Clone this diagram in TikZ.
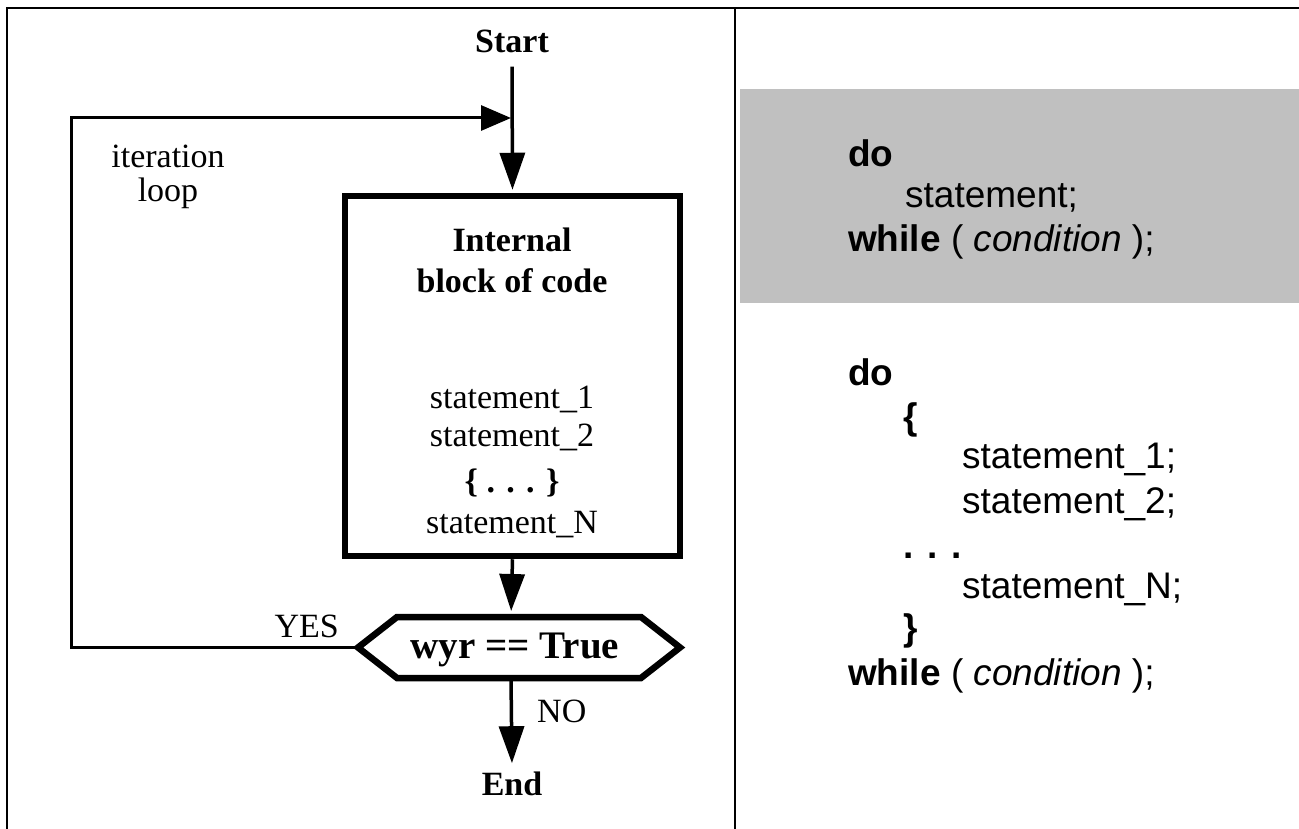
\documentclass[tikz,border=0pt]{standalone}
\usepackage{fontspec}
\setmainfont{Liberation Serif}
\newfontfamily\arialfont{Liberation Sans}
\usetikzlibrary{arrows.meta}
\definecolor{panelgray}{RGB}{192,192,192}
\begin{document}
\begin{tikzpicture}[x=1pt,y=-1pt,
  frameline/.style={line width=2.5pt},
  flow/.style={line width=3.5pt},
  arr/.style={flow,-{Triangle[length=37pt,width=25pt]}},
  heavy/.style={line width=6.5pt},
  lbl/.style={inner sep=0pt, anchor=base, font=\fontsize{34}{40}\selectfont},
  blbl/.style={inner sep=0pt, anchor=base, font=\fontsize{34}{40}\selectfont\bfseries},
  code/.style={inner sep=0pt, anchor=base west, font=\arialfont\fontsize{37}{44}\selectfont},
]
\useasboundingbox (0,0) rectangle (1299,829);
% panels
\fill[panelgray] (740,89) rectangle (1299,303);
\draw[frameline] (7,829) -- (7,8) -- (1299,8);
\draw[line width=2.3pt] (735,8) -- (735,829);

% flowchart
\node[blbl] (start) at (512,53) {Start};
\node[heavy, draw, minimum width=335pt, minimum height=360pt, inner sep=0pt] (box) at (512.5,376) {};
\node[blbl] (t1) at (512,252) {Internal};
\node[blbl] (t2) at (512,292) {block of code};
\node[lbl] (s1) at (512,408) {statement\_1};
\node[lbl] (s2) at (512,446) {statement\_2};
\node[blbl] (dots) at (512,492) {\{ . . . \}};
\node[lbl] (sn) at (512,533) {statement\_N};

\coordinate (hl) at (358,647.5);
\coordinate (htl) at (397,617);
\coordinate (htr) at (641,617);
\coordinate (hr) at (680,647.5);
\coordinate (hbr) at (641,678);
\coordinate (hbl) at (397,678);
\coordinate (ht) at (511,617);
\coordinate (hb) at (511,678);
\draw[heavy, line join=miter] (hl) -- (htl) -- (htr) -- (hr) -- (hbr) -- (hbl) -- cycle;
\node[inner sep=0pt, anchor=base, font=\fontsize{39}{44}\selectfont\bfseries] (cond) at (515,658) {wyr == True};

\node[blbl] (end) at (512,795) {End};
\node[lbl, anchor=base east] (yes) at (339,637) {YES};
\node[lbl, anchor=base west] (no) at (537,722) {NO};
\node[lbl] (it) at (168,168) {iteration};
\node[lbl] (lp) at (168,202) {loop};

\coordinate (j) at (511,118);
\coordinate (corner) at (71,647.5);
\draw[arr, shorten >=3pt] ([yshift=-13pt]start.south) -- (box.north);
\draw[line width=3pt, -{Triangle[length=30pt,width=25pt]}] (hl) -- (corner) |- (j);
\draw[arr, shorten >=6pt] (box.south) -- (ht);
\draw[arr, shorten >=4pt] (hb) -- ([yshift=4pt]end.north);

% code
\node[code] (c1) at (848,167) {\bfseries do};
\node[code] (c2) at (905,208) {statement;};
\node[code] (c3) at (848,252) {\textbf{while} ( \textit{condition} );};

\node[code] (d1) at (848,385) {\bfseries do};
\node[code] (d2) at (903,429) {\bfseries \{};
\node[code] (d3) at (962,468) {statement\_1;};
\node[code] (d4) at (962,513) {statement\_2;};
\node[code] (d5) at (903,558) {\bfseries . . .};
\node[code] (d6) at (962,598) {statement\_N;};
\node[code] (d7) at (903,640) {\bfseries \}};
\node[code] (d8) at (848,685) {\textbf{while} ( \textit{condition} );};
\end{tikzpicture}
\end{document}
